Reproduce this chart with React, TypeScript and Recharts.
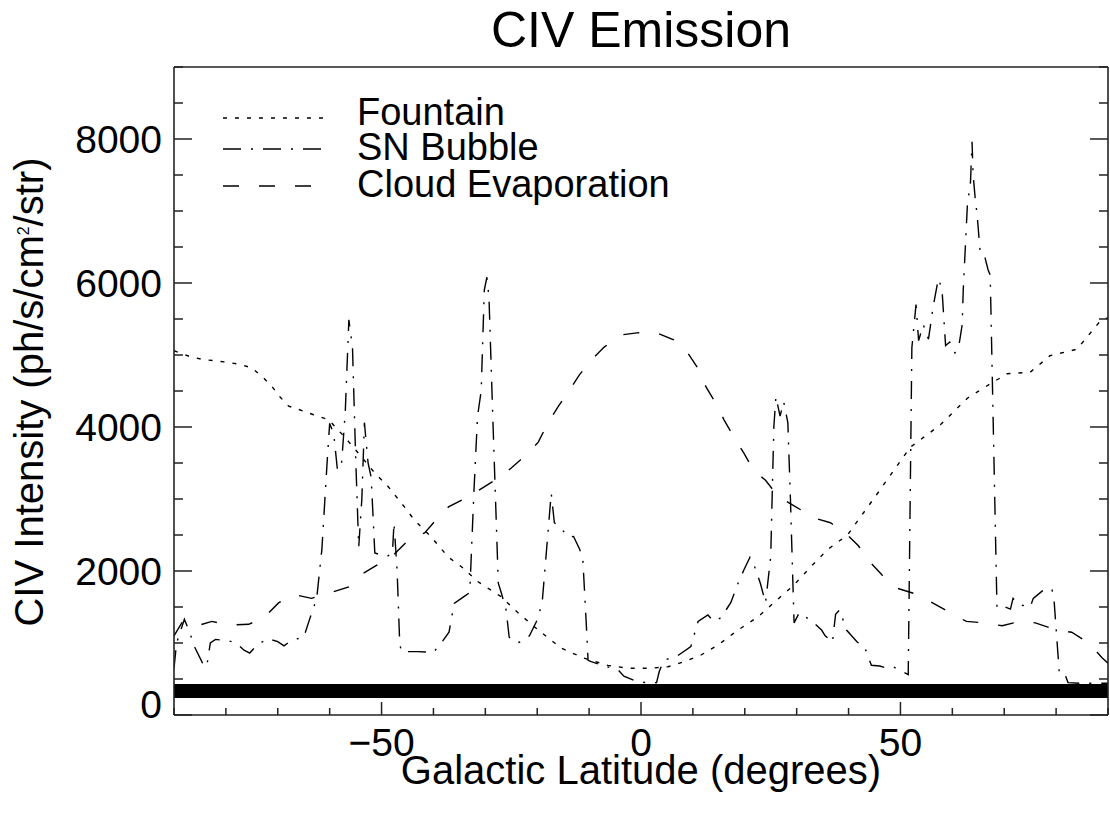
import React from 'react';
import { LineChart, Line, XAxis, YAxis, ReferenceArea, Legend } from 'recharts';

// CIV intensity vs galactic latitude, three model curves
const fountain = [
  [-90, 5060], [-87, 4980], [-84.6, 4940], [-79.8, 4900], [-77.3, 4870], [-75, 4820],
  [-73, 4700], [-71.2, 4570], [-69.6, 4420], [-67.9, 4290], [-65.8, 4240], [-63.1, 4170],
  [-60.2, 4100], [-57.1, 3860], [-53.8, 3580], [-51.3, 3360], [-48.7, 3170], [-45.6, 2890],
  [-43.7, 2710], [-40.4, 2470], [-37.1, 2190], [-34.6, 2060], [-31.4, 1850], [-26.9, 1640],
  [-23.7, 1420], [-19.8, 1180], [-15.4, 930], [-11, 790], [-6.4, 690], [-2.5, 650],
  [1.9, 650], [5.2, 670], [8.3, 740], [11.5, 830], [14.8, 970], [18.7, 1180], [22.5, 1360],
  [25.6, 1560], [29.4, 1800], [33, 2080], [36, 2300], [39.8, 2500], [45.6, 3080],
  [51.9, 3720], [57.7, 4030], [62.9, 4400], [67.3, 4600], [70.6, 4740], [75, 4760],
  [78.8, 4990], [84, 5080], [88.5, 5470], [90, 5520],
].map(([lat, val]) => ({ lat, val }));

const snBubble = [
  [-90, 650], [-89.5, 1000], [-88, 1330], [-87, 1150], [-86, 940], [-84.5, 720], [-83.7, 670],
  [-83, 1000], [-82, 1050], [-79.5, 1030], [-78, 1000], [-76.5, 900], [-75.4, 860], [-74, 970],
  [-72, 1060], [-70, 1020], [-68.8, 960], [-67.3, 1040], [-65, 1080], [-64, 1300], [-62.5, 1620],
  [-61.5, 2300], [-60.5, 3500], [-60, 4050], [-59.2, 3900], [-58.5, 3400], [-57.7, 3500],
  [-57, 4200], [-56.3, 5490], [-55.6, 5100], [-55, 3600], [-54.4, 2330], [-53.8, 3000],
  [-53.3, 4060], [-52.6, 3500], [-52, 3300], [-51.3, 2250], [-49, 2200], [-47.9, 2250],
  [-47.6, 2670], [-47, 2000], [-46.5, 1000], [-46.2, 880], [-43, 880], [-40, 870],
  [-38.5, 1000], [-37, 1150], [-36, 1550], [-34, 1650], [-33, 1700], [-32.2, 3100],
  [-31.5, 4150], [-30.8, 4500], [-30.2, 5900], [-29.7, 6080], [-29.3, 5800], [-28.5, 4000],
  [-27.5, 1830], [-26.9, 1690], [-26, 1460], [-25.4, 1080], [-24, 1000], [-23, 1020],
  [-21.5, 1100], [-19.8, 1350], [-19, 1600], [-17.3, 3080], [-16.7, 2670], [-15.5, 2600],
  [-14, 2470], [-13, 2480], [-11.8, 2300], [-11.2, 2150], [-10.5, 1200], [-10.2, 760],
  [-9.6, 740], [-7, 680], [-4.4, 625], [-3.3, 540], [-1, 470], [2, 440], [3, 450],
  [3.5, 600], [4.4, 760], [7, 820], [9.6, 950], [11, 1300], [12.9, 1390], [14, 1300],
  [15.4, 1350], [17.3, 1560], [18.7, 1830], [19.8, 2010], [21, 2190], [21.7, 2100],
  [23, 1830], [24, 1560], [25, 2200], [25.6, 4000], [26, 4420], [26.8, 4150], [27.5, 4350],
  [28.3, 4060], [28.8, 3000], [29.5, 1280], [30.5, 1420], [33, 1300], [34.8, 1180],
  [35.5, 1100], [36.9, 1010], [37.5, 1400], [38.3, 1460], [39.6, 1180], [41.7, 1010],
  [43, 960], [44.4, 690], [46, 680], [47.5, 650], [48.6, 670], [51.5, 560], [52.2, 5100],
  [53, 5700], [53.5, 5200], [54.4, 5420], [55.4, 5220], [56.3, 5670], [57.3, 6060],
  [58, 5920], [58.7, 5130], [59.5, 5180], [60.5, 5030], [61.2, 5100], [61.9, 5420],
  [62.1, 5900], [62.9, 7080], [63.5, 7400], [63.8, 7960], [64, 7510], [64.4, 7180],
  [64.8, 6930], [65.4, 6400], [66.3, 6350], [66.9, 6180], [67.3, 6110], [68.6, 1500],
  [69.2, 1530], [71.2, 1470], [71.7, 1620], [73, 1530], [75, 1500], [75.6, 1620],
  [77.3, 1720], [78, 1760], [79.2, 1740], [79.6, 1600], [80.6, 600], [81.5, 600],
  [82.3, 450], [85, 440], [90, 440],
].map(([lat, val]) => ({ lat, val }));

const cloudEvap = [
  [-90, 1100], [-88.5, 1280], [-86.5, 1220], [-82.7, 1300], [-79.4, 1250], [-75.6, 1260],
  [-72.7, 1350], [-69.8, 1560], [-66.7, 1670], [-63.5, 1620], [-60.2, 1690], [-56.3, 1780],
  [-53.5, 1970], [-50, 2120], [-48, 2200], [-44.8, 2430], [-41.7, 2530], [-39, 2750],
  [-37.1, 2890], [-33.3, 3030], [-27.5, 3290], [-25, 3430], [-21.7, 3640], [-19.8, 3790],
  [-17.9, 4060], [-16, 4280], [-14, 4490], [-11.9, 4720], [-9.6, 4930], [-7.1, 5110],
  [-3.8, 5280], [-0.4, 5310], [3.3, 5300], [6.3, 5210], [9, 5030], [11.2, 4790],
  [12.5, 4560], [14.4, 4330], [16, 4100], [17.9, 3860], [19.8, 3640], [21.7, 3400],
  [24, 3260], [26.5, 3030], [30.8, 2850], [32.7, 2750], [36.5, 2670], [39.4, 2530],
  [41.9, 2350], [43.8, 2150], [46.5, 1940], [49.4, 1760], [52.5, 1690], [56.1, 1560],
  [59.6, 1420], [62.7, 1300], [66, 1280], [69.6, 1240], [73, 1300], [76, 1280],
  [80, 1180], [83, 1150], [86.3, 1000], [88.8, 800], [90, 720],
].map(([lat, val]) => ({ lat, val }));

const xTicks = [-90, -80, -70, -60, -50, -40, -30, -20, -10, 0, 10, 20, 30, 40, 50, 60, 70, 80, 90];
const xLabelTicks = [-50, 0, 50];
const yTicks = [0, 500, 1000, 1500, 2000, 2500, 3000, 3500, 4000, 4500, 5000, 5500, 6000, 6500, 7000, 7500, 8000, 8500, 9000];
const yLabelTicks = [0, 2000, 4000, 6000, 8000];

// thick black band near the bottom
const bandLow = 235;
const bandHigh = 430;

const series = [
  { key: 'fountain', name: 'Fountain', data: fountain, dash: '4 8' },
  { key: 'sn', name: 'SN Bubble', data: snBubble, dash: '18 10 2 10' },
  { key: 'cloud', name: 'Cloud Evaporation', data: cloudEvap, dash: '16 20' },
];

const FONT = '"Liberation Sans", Arial, Helvetica, sans-serif';
const AXIS = '#222';

const fmt = (v: number) => (v < 0 ? `\u2212${Math.abs(v)}` : `${v}`);

function BottomTick({ x, y, payload }: any) {
  const major = xLabelTicks.includes(payload.value);
  return (
    <g>
      <line x1={x} y1={y} x2={x} y2={y - (major ? 13 : 7)} stroke={AXIS} strokeWidth={1.5} />
      {major && (
        <text x={x} y={y + 41} textAnchor="middle" fontSize={39} fontFamily={FONT} fill="#000">
          {fmt(payload.value)}
        </text>
      )}
    </g>
  );
}

function TopTick({ x, y, payload }: any) {
  const major = xLabelTicks.includes(payload.value);
  return <line x1={x} y1={y} x2={x} y2={y + (major ? 13 : 7)} stroke={AXIS} strokeWidth={1.5} />;
}

function LeftTick({ x, y, payload }: any) {
  const major = yLabelTicks.includes(payload.value);
  return (
    <g>
      <line x1={x} y1={y} x2={x + (major ? 18 : 9)} y2={y} stroke={AXIS} strokeWidth={1.5} />
      {major && (
        <text x={x - 12} y={y + (payload.value === 0 ? 3 : 14)} textAnchor="end" fontSize={39} fontFamily={FONT} fill="#000">
          {fmt(payload.value)}
        </text>
      )}
    </g>
  );
}

function RightTick({ x, y, payload }: any) {
  const major = yLabelTicks.includes(payload.value);
  return <line x1={x} y1={y} x2={x - (major ? 18 : 9)} y2={y} stroke={AXIS} strokeWidth={1.5} />;
}

const legendRows = [30, 61, 98];
const legendBase = [37, 72, 109];

function LegendBox() {
  return (
    <svg width={500} height={125}>
      {series.map((s, i) => (
        <g key={s.key}>
          <line x1={8} x2={108} y1={legendRows[i]} y2={legendRows[i]} stroke="#000" strokeWidth={1.4} strokeDasharray={s.dash} />
          <text x={142} y={legendBase[i]} fontSize={38} fontFamily={FONT} fill="#000">
            {s.name}
          </text>
        </g>
      ))}
    </svg>
  );
}

export default function App() {
  return (
    <div style={{ position: 'absolute', left: 0, top: 0, width: 1110, height: 821, background: '#fff', fontFamily: FONT }}>
      <div style={{ position: 'absolute', left: 391, top: 5, width: 500, textAlign: 'center', fontSize: 50, lineHeight: '50px' }}>
        CIV Emission
      </div>
      <LineChart
        width={1110}
        height={821}
        margin={{ top: 66, right: 1, bottom: 105, left: 173 }}
      >
        <XAxis
          dataKey="lat"
          type="number"
          domain={[-90, 90]}
          ticks={xTicks}
          interval={0}
          height={1}
          tickSize={0}
          tickMargin={0}
          allowDataOverflow
          axisLine={{ stroke: AXIS, strokeWidth: 1.6 }}
          tickLine={false}
          tick={(p: any) => <BottomTick {...p} />}
        />
        <XAxis
          xAxisId="top"
          orientation="top"
          type="number"
          domain={[-90, 90]}
          ticks={xTicks}
          interval={0}
          height={1}
          tickSize={0}
          tickMargin={0}
          allowDataOverflow
          axisLine={{ stroke: AXIS, strokeWidth: 1.6 }}
          tickLine={false}
          tick={(p: any) => <TopTick {...p} />}
        />
        <YAxis
          type="number"
          domain={[0, 9000]}
          ticks={yTicks}
          interval={0}
          width={1}
          tickSize={0}
          tickMargin={0}
          allowDataOverflow
          axisLine={{ stroke: AXIS, strokeWidth: 1.6 }}
          tickLine={false}
          tick={(p: any) => <LeftTick {...p} />}
        />
        <YAxis
          yAxisId="right"
          orientation="right"
          type="number"
          domain={[0, 9000]}
          ticks={yTicks}
          interval={0}
          width={1}
          tickSize={0}
          tickMargin={0}
          allowDataOverflow
          axisLine={{ stroke: AXIS, strokeWidth: 1.6 }}
          tickLine={false}
          tick={(p: any) => <RightTick {...p} />}
        />
        <ReferenceArea y1={bandLow} y2={bandHigh} fill="#000" fillOpacity={1} stroke="none" />
        {series.map((s) => (
          <Line
            key={s.key}
            data={s.data}
            dataKey="val"
            name={s.name}
            type="linear"
            stroke="#000"
            strokeWidth={1.4}
            strokeDasharray={s.dash}
            dot={false}
            activeDot={false}
            isAnimationActive={false}
          />
        ))}
        <Legend
          layout="horizontal"
          verticalAlign="middle"
          align="center"
          wrapperStyle={{ left: 215, top: 88, width: 500, height: 125 }}
          content={() => <LegendBox />}
        />
      </LineChart>
      <div style={{ position: 'absolute', left: 391, top: 750, width: 500, textAlign: 'center', fontSize: 40, lineHeight: '40px', whiteSpace: 'nowrap' }}>
        Galactic Latitude (degrees)
      </div>
      <div
        style={{
          position: 'absolute',
          left: 29 - 300,
          top: 392 - 20,
          width: 600,
          height: 40,
          textAlign: 'center',
          fontSize: 40,
          lineHeight: '40px',
          whiteSpace: 'nowrap',
          transform: 'rotate(-90deg)',
          transformOrigin: 'center',
        }}
      >
        CIV Intensity (ph/s/cm<sup style={{ fontSize: 16, lineHeight: 0, verticalAlign: 'super' }}>2</sup>/str)
      </div>
    </div>
  );
}
